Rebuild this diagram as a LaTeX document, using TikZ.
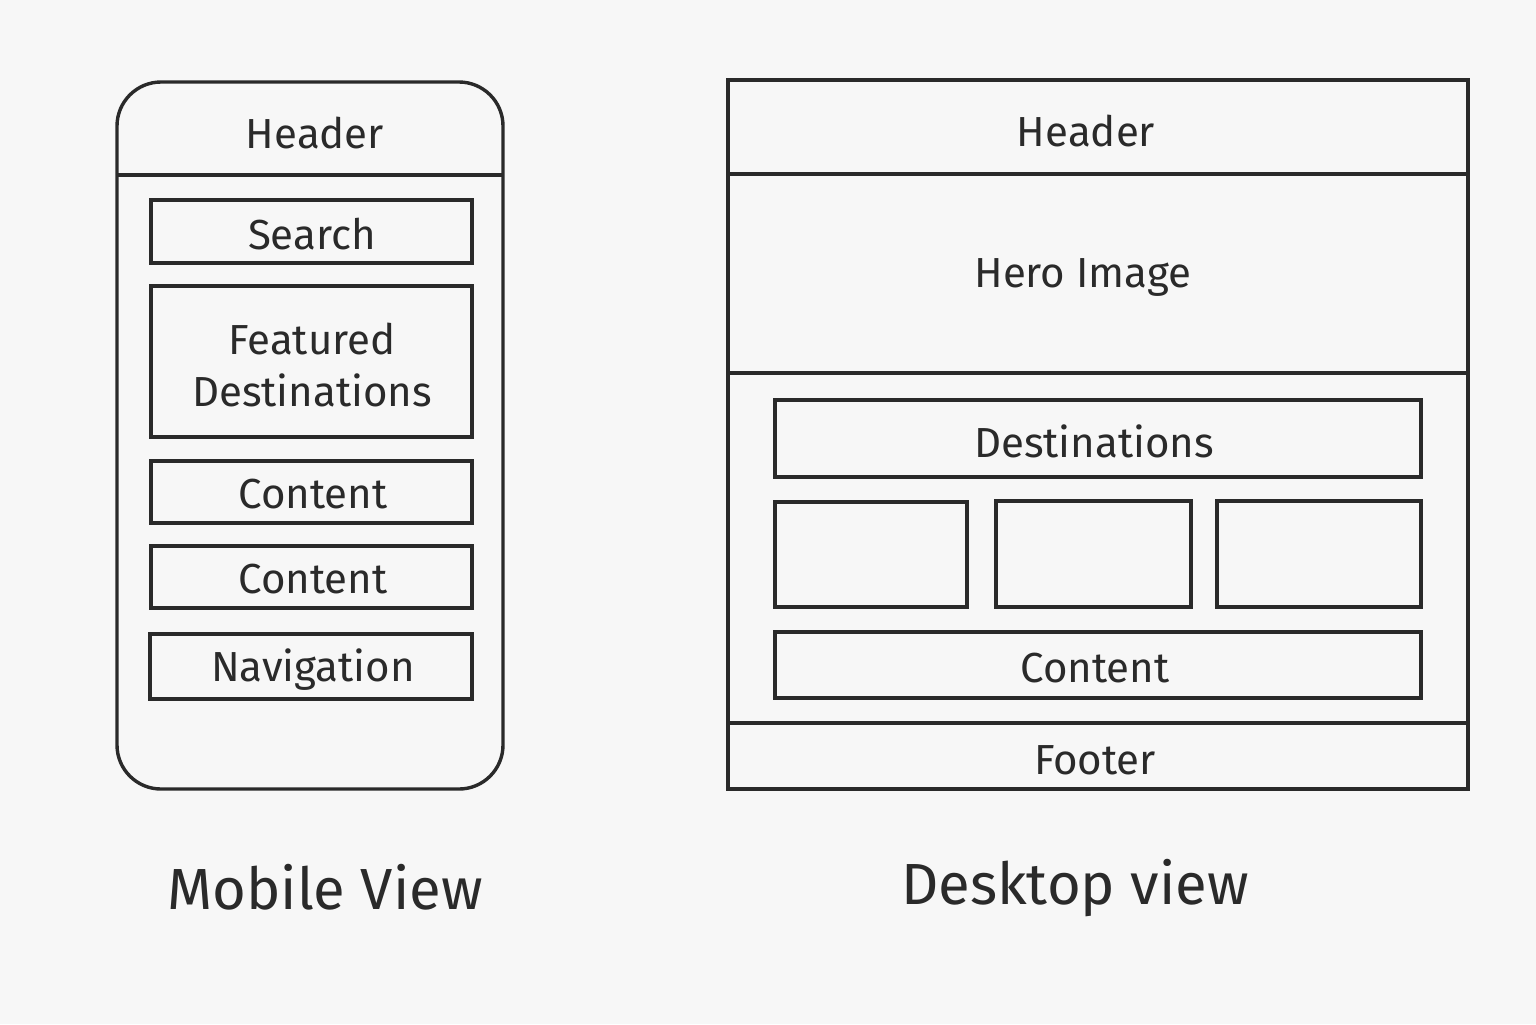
\documentclass[tikz,border=0pt]{standalone}
\usepackage{fontspec}
\setmainfont{Fira Sans}
\definecolor{ink}{HTML}{2A2A2A}
\definecolor{paper}{HTML}{F7F7F7}
\begin{document}
\begin{tikzpicture}[x=0.5pt,y=-0.5pt,
  frame/.style={draw=ink,line width=1.7pt},
  box/.style={draw=ink,line width=1.6pt},
  lbl/.style={text=ink,font=\fontsize{21}{26}\selectfont,align=center},
  caption/.style={text=ink,font=\fontsize{29}{34}\selectfont}]
\fill[paper] (0,0) rectangle (1536,1024);
\useasboundingbox (0,0) rectangle (1536,1024);
% Mobile
\draw[frame,rounded corners=22pt] (117,82) rectangle (503,789);
\draw[frame] (117,175) -- (503,175);
\node[lbl] (mhead) at (315,133) {Header};
\draw[box] (151,200) rectangle (472,263);
\node[lbl] (msearch) at (312,234) {Search};
\draw[box] (151,286) rectangle (472,437);
\node[lbl] (mfeat) at (312,365) {Featured\\Destinations};
\draw[box] (151,461) rectangle (472,523);
\node[lbl] (mcont1) at (313,494) {Content};
\draw[box] (151,546) rectangle (472,608);
\node[lbl] (mcont2) at (313,579) {Content};
\draw[box] (150,634) rectangle (472,699);
\node[lbl] (mnav) at (313,670) {Navigation};
\node[caption] (mcap) at (325,887) {Mobile View};
% Desktop
\draw[frame] (728,80) rectangle (1468,789);
\draw[frame] (728,174) -- (1468,174);
\draw[frame] (728,373) -- (1468,373);
\draw[frame] (728,723) -- (1468,723);
\node[lbl] (dhead) at (1086,131) {Header};
\node[lbl] (dhero) at (1083,277) {Hero Image};
\draw[box] (775,400) rectangle (1421,477);
\node[lbl] (ddest) at (1094,441) {Destinations};
\draw[box] (775,502) rectangle (967,607);
\draw[box] (996,501) rectangle (1191,607);
\draw[box] (1217,501) rectangle (1421,607);
\draw[box] (775,632) rectangle (1421,698);
\node[lbl] (dcont) at (1095,668) {Content};
\node[lbl] (dfoot) at (1095,760) {Footer};
\node[caption] (dcap) at (1075,888) {Desktop view};
\end{tikzpicture}
\end{document}
